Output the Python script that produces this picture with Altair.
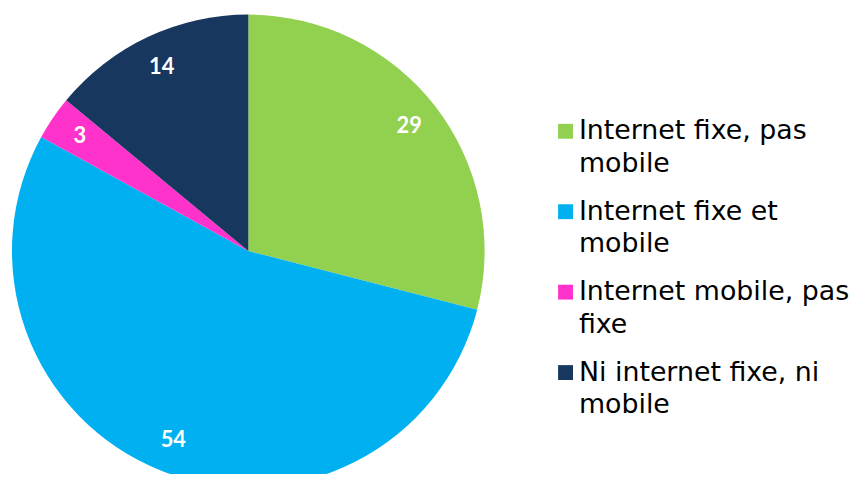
import altair as alt
import pandas as pd

categories = [
    "Internet fixe, pas|mobile",
    "Internet fixe et|mobile",
    "Internet mobile, pas|fixe",
    "Ni internet fixe, ni|mobile",
]
values = [29, 54, 3, 14]
colors = ["#92D050", "#00B0F0", "#FF33CC", "#17375E"]

df = pd.DataFrame({
    "cat": categories,
    "val": values,
    "idx": list(range(len(categories))),
})

base = alt.Chart(df).encode(
    theta=alt.Theta("val:Q", stack=True),
    order=alt.Order("idx:Q"),
    x=alt.value(242),
    y=alt.value(243),
)

arcs = base.mark_arc(radius=238).encode(
    color=alt.Color(
        "cat:N",
        sort=categories,
        scale=alt.Scale(domain=categories, range=colors),
        legend=alt.Legend(
            title=None,
            orient="none",
            legendX=548,
            legendY=109,
            symbolType="square",
            symbolSize=225,
            symbolStrokeWidth=0,
            labelFont="DejaVu Sans",
            labelFontSize=27,
            labelColor="#000000",
            labelLimit=0,
            labelOffset=0,
            labelExpr="split(datum.label, '|')",
            labelBaseline="middle",
            rowPadding=20,
            padding=0,
        ),
    )
)

labels = base.mark_text(
    radius=205, font="Lato", fontWeight="bold", fontSize=22, color="white"
).encode(text=alt.Text("val:Q"))

chart = (
    alt.layer(arcs, labels)
    .properties(
        width=850,
        height=466,
        padding=0,
        autosize=alt.AutoSizeParams(type="none"),
        background="white",
    )
    .configure(
        style={"guide-label": {"lineHeight": 33}},
        view=alt.ViewConfig(stroke=None),
    )
)

chart.save("out.html", embed_options={"renderer": "svg", "actions": False})
